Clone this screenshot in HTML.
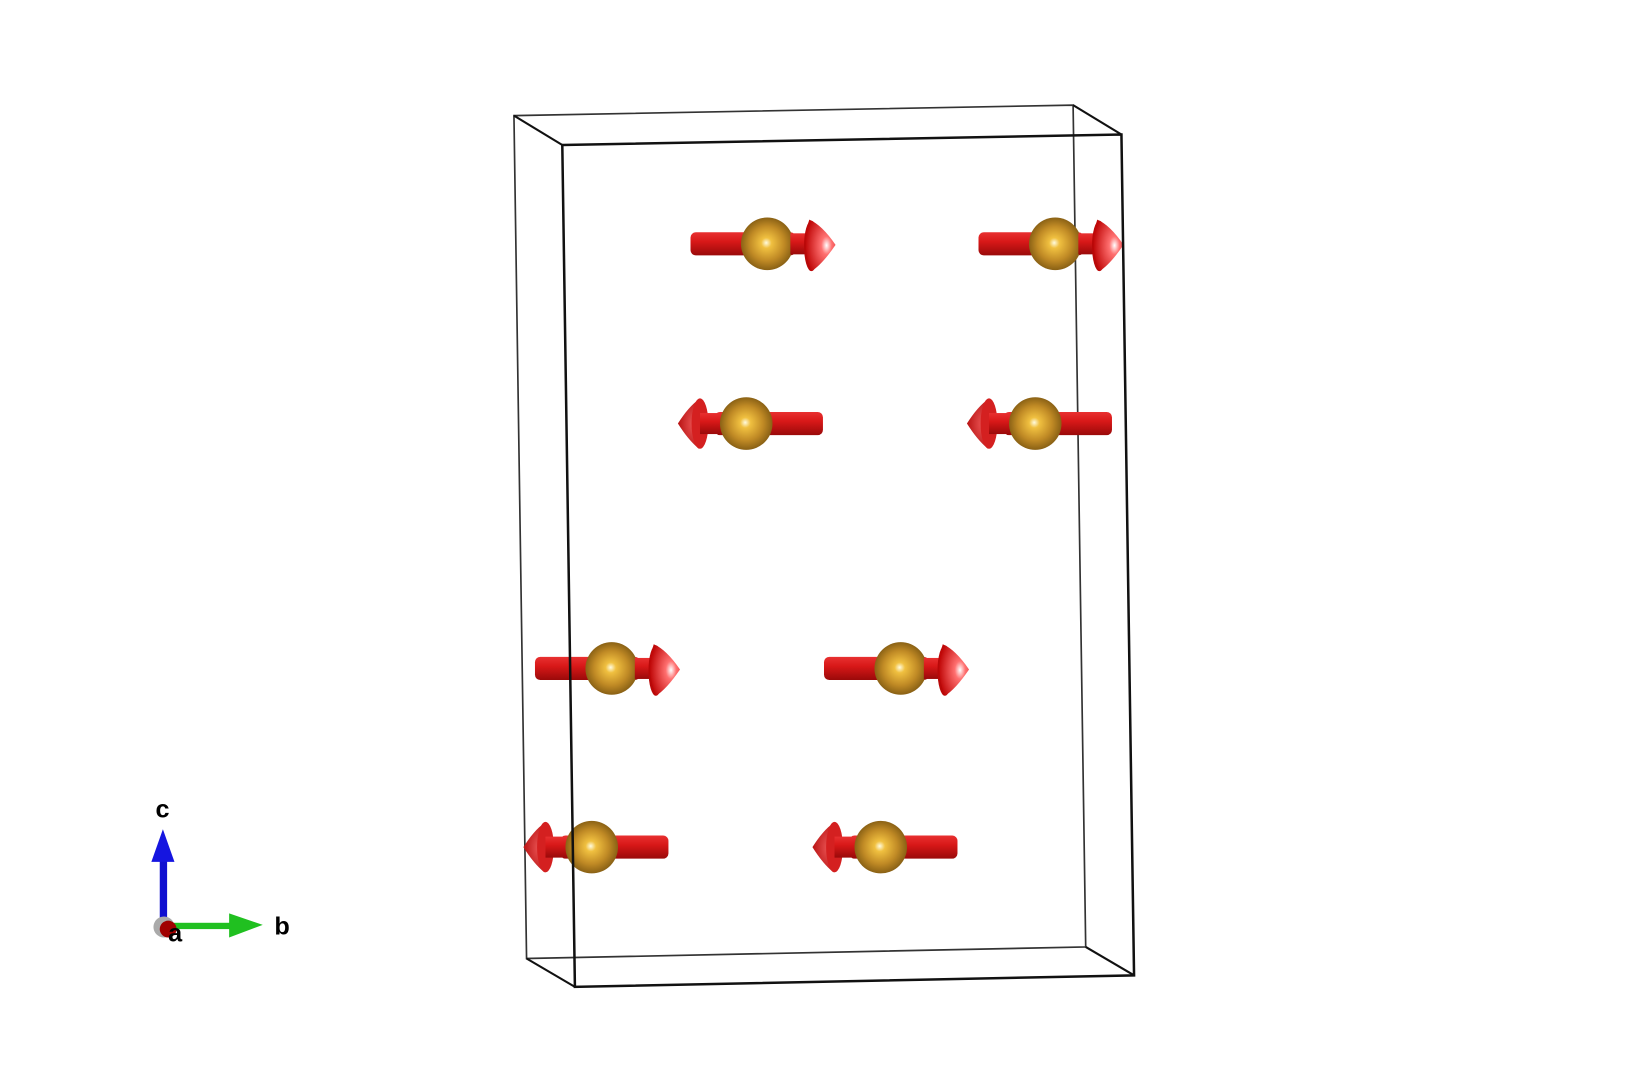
<!DOCTYPE html>
<html><head><meta charset="utf-8"><style>
html,body{margin:0;padding:0;background:#fff;width:1648px;height:1092px;overflow:hidden}
svg{display:block}
text{font-family:"Liberation Sans",sans-serif;font-weight:bold}
</style></head><body>
<svg width="1648" height="1092" viewBox="0 0 1568 1039" preserveAspectRatio="none" xmlns="http://www.w3.org/2000/svg">
<defs>
<radialGradient id="ball" cx="0.5" cy="0.5" r="0.55" fx="0.48" fy="0.48">
<stop offset="0" stop-color="#fffbe0"/><stop offset="0.18" stop-color="#f0c040"/><stop offset="0.6" stop-color="#c08a25"/><stop offset="1" stop-color="#7a5510"/>
</radialGradient>
<linearGradient id="rod" x1="0" y1="0" x2="0" y2="1">
<stop offset="0" stop-color="#e83030"/><stop offset="0.4" stop-color="#d81818"/><stop offset="1" stop-color="#9a0a0a"/>
</linearGradient>
<radialGradient id="coneR" cx="0.7" cy="0.5" r="0.7">
<stop offset="0" stop-color="#ffffff"/><stop offset="0.25" stop-color="#ff7070"/><stop offset="1" stop-color="#c00808"/>
</radialGradient>
<radialGradient id="coneL" cx="0.6" cy="0.5" r="0.7">
<stop offset="0" stop-color="#e85050"/><stop offset="1" stop-color="#b00808"/>
</radialGradient>
<g id="right">
<rect x="-73" y="-11" width="100" height="22" rx="5" fill="url(#rod)"/>
<circle cx="0" cy="0" r="25" fill="url(#ball)"/>
<rect x="22" y="-10" width="20" height="20" fill="url(#rod)"/>
<ellipse cx="42" cy="2" rx="7" ry="24" fill="#b80808"/>
<path d="M40,-23 Q52,-18 65,1 Q52,20 42,26 Q32,0 40,-23Z" fill="url(#coneR)"/>
</g>
<g id="left">
<rect x="-30" y="-11" width="103" height="22" rx="5" fill="url(#rod)"/>
<path d="M-45,-23 Q-55,-16 -65,0 Q-55,16 -45,24 Q-38,0 -45,-23Z" fill="url(#coneL)"/>
<ellipse cx="-44" cy="0" rx="8" ry="24" fill="#d42020"/>
<rect x="-44" y="-10" width="22" height="20" fill="url(#rod)"/>
<circle cx="0" cy="0" r="25" fill="url(#ball)"/>
</g>
</defs>
<g fill="none" stroke="#111" stroke-width="2">
<polygon points="489,110 1021,100 1033,901 501,912" stroke="#333" stroke-width="1.6"/>
<line x1="489" y1="110" x2="535" y2="138"/>
<line x1="1021" y1="100" x2="1067" y2="128"/>
<line x1="1033" y1="901" x2="1079" y2="928"/>
<line x1="501" y1="912" x2="547" y2="939"/>
</g>
<use href="#right" x="730" y="232"/>
<use href="#right" x="1004" y="232"/>
<use href="#left" x="710" y="403"/>
<use href="#left" x="985" y="403"/>
<use href="#right" x="582" y="636"/>
<use href="#right" x="857" y="636"/>
<use href="#left" x="563" y="806"/>
<use href="#left" x="838" y="806"/>
<polygon points="535,138 1067,128 1079,928 547,939" fill="none" stroke="#111" stroke-width="2.4"/>
<!-- axes -->
<rect x="152" y="818" width="7" height="66" fill="#1010d0"/>
<polygon points="144,820 155,789 166,820" fill="#1515e0"/>
<rect x="158" y="878" width="62" height="6" fill="#20c020"/>
<polygon points="218,869 250,880 218,892" fill="#20c020"/>
<circle cx="156" cy="882" r="10" fill="#aaa"/>
<circle cx="160" cy="884" r="8" fill="#a00000"/>
<text x="148" y="778" font-size="24">c</text>
<text x="261" y="889" font-size="24">b</text>
<text x="160" y="896" font-size="24">a</text>
</svg>
</body></html>
